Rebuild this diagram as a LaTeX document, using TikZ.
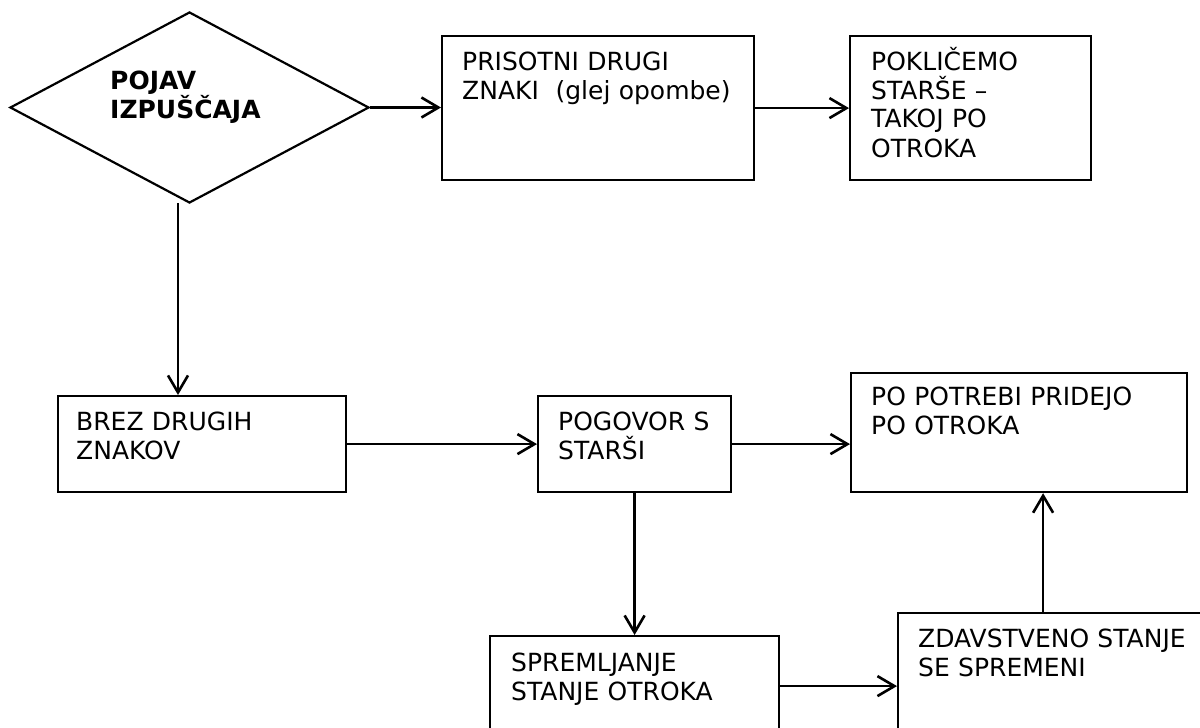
\documentclass[tikz,border=0pt]{standalone}
\usepackage{fontspec}
\setmainfont{DejaVu Sans}
\usetikzlibrary{shapes.geometric,arrows.meta}
\begin{document}
\begin{tikzpicture}[x=1pt,y=-1pt,
  box/.style={draw, line width=2.2pt, rectangle, inner sep=0pt, anchor=north west},
  txt/.style={font=\fontsize{25}{29}\selectfont, text width=400pt, align=left, inner sep=0pt, anchor=base west},
  txtb/.style={font=\fontsize{25}{29}\selectfont\bfseries, text width=400pt, align=left, inner sep=0pt, anchor=base west},
  conn/.style={line width=2.6pt, -{Straight Barb[length=17pt,width=20pt]}}]
\fill[white] (0,0) rectangle (1200,728);
\clip (0,0) rectangle (1200,728);
% shapes
\node[draw, diamond, line width=2.2pt, minimum width=359pt, minimum height=191pt, inner sep=0pt] (d) at (189.5,107.5) {};
\node[box, minimum width=312pt, minimum height=144pt] (b1) at (441,35) {};
\node[box, minimum width=241pt, minimum height=144pt] (b2) at (849,35) {};
\node[box, minimum width=288pt, minimum height=96pt] (brez) at (57,395) {};
\node[box, minimum width=193pt, minimum height=96pt] (pog) at (537,395) {};
\node[box, minimum width=336pt, minimum height=119pt] (pot) at (850,372) {};
\node[box, minimum width=289pt, minimum height=150pt] (spr) at (489,635) {};
\node[box, minimum width=350pt, minimum height=150pt] (zd) at (897,612) {};
% texts
\node[txtb] (td) at (110,89) {POJAV\\IZPUŠČAJA};
\node[txt] (t1) at (462,70) {PRISOTNI DRUGI\\ZNAKI\ \ (glej opombe)};
\node[txt] (t2) at (871,70) {POKLIČEMO\\STARŠE –\\TAKOJ PO\\OTROKA};
\node[txt] (t3) at (76,430) {BREZ DRUGIH\\ZNAKOV};
\node[txt] (t4) at (558,430) {POGOVOR S\\STARŠI};
\node[txt] (t5) at (871,405) {PO POTREBI PRIDEJO\\PO OTROKA};
\node[txt] (t6) at (511,671) {SPREMLJANJE\\STANJE OTROKA};
\node[txt] (t7) at (918,647) {ZDAVSTVENO STANJE\\SE SPREMENI};
% connectors
\coordinate (s) at (178,203);
\draw[conn] (d.east) -- (d.east -| b1.west);
\draw[conn] (b1.east) -- (b1.east -| b2.west);
\draw[conn] (s) -- (s |- brez.north);
\draw[conn] (brez.east) -- (brez.east -| pog.west);
\draw[conn] (pog.east) -- (pog.east -| pot.west);
\draw[conn] (pog.south) -- (pog.south |- spr.north);
\draw[conn] ([yshift=25pt]spr.east) -- ([yshift=25pt]spr.east -| zd.west);
\draw[conn] ([xshift=-30pt]zd.north) -- ([xshift=-30pt]zd.north |- pot.south);
\end{tikzpicture}
\end{document}
